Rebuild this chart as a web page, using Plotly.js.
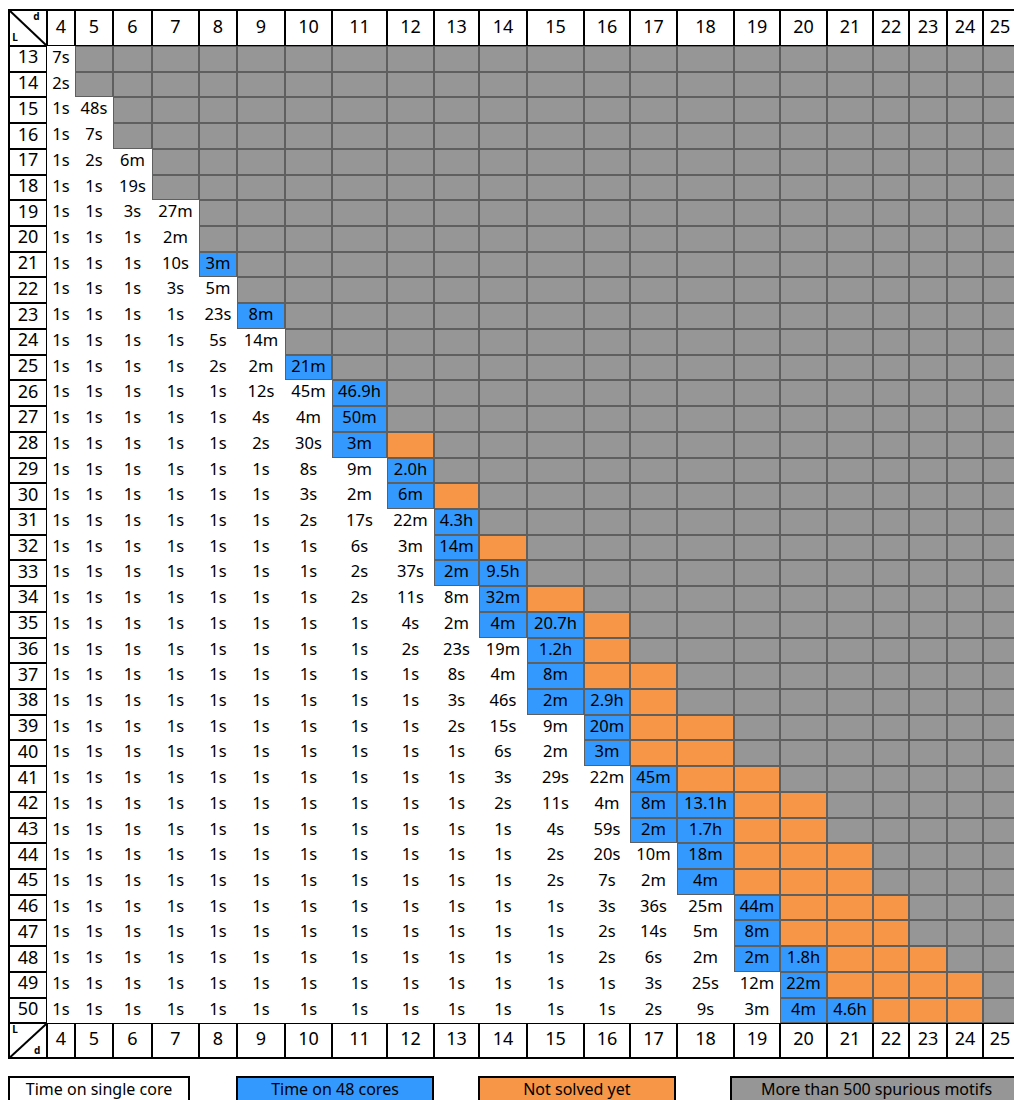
<!DOCTYPE html>
<html>
<head>
<meta charset="utf-8">
<script src="https://cdn.plot.ly/plotly-3.0.1.min.js"></script>
<style>html,body{margin:0;padding:0;background:#ffffff;}</style>
</head>
<body>
<div id="chart" style="width:1014px;height:1100px;"></div>
<script>
// ================= DATA =================
// motif width d (columns) and motif length L (rows)
const dValues = [4, 5, 6, 7, 8, 9, 10, 11, 12, 13, 14, 15, 16, 17, 18, 19, 20, 21, 22, 23, 24, 25];
const LValues = [13, 14, 15, 16, 17, 18, 19, 20, 21, 22, 23, 24, 25, 26, 27, 28, 29, 30, 31,
                 32, 33, 34, 35, 36, 37, 38, 39, 40, 41, 42, 43, 44, 45, 46, 47, 48, 49, 50];

// Time on a single core, per L row, starting at d = 4
const singleCore = [
  ["7s"],
  ["2s"],
  ["1s", "48s"],
  ["1s", "7s"],
  ["1s", "2s", "6m"],
  ["1s", "1s", "19s"],
  ["1s", "1s", "3s", "27m"],
  ["1s", "1s", "1s", "2m"],
  ["1s", "1s", "1s", "10s"],
  ["1s", "1s", "1s", "3s", "5m"],
  ["1s", "1s", "1s", "1s", "23s"],
  ["1s", "1s", "1s", "1s", "5s", "14m"],
  ["1s", "1s", "1s", "1s", "2s", "2m"],
  ["1s", "1s", "1s", "1s", "1s", "12s", "45m"],
  ["1s", "1s", "1s", "1s", "1s", "4s", "4m"],
  ["1s", "1s", "1s", "1s", "1s", "2s", "30s"],
  ["1s", "1s", "1s", "1s", "1s", "1s", "8s", "9m"],
  ["1s", "1s", "1s", "1s", "1s", "1s", "3s", "2m"],
  ["1s", "1s", "1s", "1s", "1s", "1s", "2s", "17s", "22m"],
  ["1s", "1s", "1s", "1s", "1s", "1s", "1s", "6s", "3m"],
  ["1s", "1s", "1s", "1s", "1s", "1s", "1s", "2s", "37s"],
  ["1s", "1s", "1s", "1s", "1s", "1s", "1s", "2s", "11s", "8m"],
  ["1s", "1s", "1s", "1s", "1s", "1s", "1s", "1s", "4s", "2m"],
  ["1s", "1s", "1s", "1s", "1s", "1s", "1s", "1s", "2s", "23s", "19m"],
  ["1s", "1s", "1s", "1s", "1s", "1s", "1s", "1s", "1s", "8s", "4m"],
  ["1s", "1s", "1s", "1s", "1s", "1s", "1s", "1s", "1s", "3s", "46s"],
  ["1s", "1s", "1s", "1s", "1s", "1s", "1s", "1s", "1s", "2s", "15s", "9m"],
  ["1s", "1s", "1s", "1s", "1s", "1s", "1s", "1s", "1s", "1s", "6s", "2m"],
  ["1s", "1s", "1s", "1s", "1s", "1s", "1s", "1s", "1s", "1s", "3s", "29s", "22m"],
  ["1s", "1s", "1s", "1s", "1s", "1s", "1s", "1s", "1s", "1s", "2s", "11s", "4m"],
  ["1s", "1s", "1s", "1s", "1s", "1s", "1s", "1s", "1s", "1s", "1s", "4s", "59s"],
  ["1s", "1s", "1s", "1s", "1s", "1s", "1s", "1s", "1s", "1s", "1s", "2s", "20s", "10m"],
  ["1s", "1s", "1s", "1s", "1s", "1s", "1s", "1s", "1s", "1s", "1s", "2s", "7s", "2m"],
  ["1s", "1s", "1s", "1s", "1s", "1s", "1s", "1s", "1s", "1s", "1s", "1s", "3s", "36s", "25m"],
  ["1s", "1s", "1s", "1s", "1s", "1s", "1s", "1s", "1s", "1s", "1s", "1s", "2s", "14s", "5m"],
  ["1s", "1s", "1s", "1s", "1s", "1s", "1s", "1s", "1s", "1s", "1s", "1s", "2s", "6s", "2m"],
  ["1s", "1s", "1s", "1s", "1s", "1s", "1s", "1s", "1s", "1s", "1s", "1s", "1s", "3s", "25s", "12m"],
  ["1s", "1s", "1s", "1s", "1s", "1s", "1s", "1s", "1s", "1s", "1s", "1s", "1s", "2s", "9s", "3m"]
];

// Time on 48 cores, per L row, in the cells right after the single-core cells
const multiCore = [
  [], [], [], [], [], [], [], [],
  ["3m"], [], ["8m"], [], ["21m"], ["46.9h"], ["50m"], ["3m"], ["2.0h"], ["6m"],
  ["4.3h"], ["14m"], ["2m", "9.5h"], ["32m"], ["4m", "20.7h"], ["1.2h"], ["8m"],
  ["2m", "2.9h"], ["20m"], ["3m"], ["45m"], ["8m", "13.1h"], ["2m", "1.7h"],
  ["18m"], ["4m"], ["44m"], ["8m"], ["2m", "1.8h"], ["22m"], ["4m", "4.6h"]
];

// Number of "not solved yet" cells after the 48-core cells (the rest: > 500 spurious motifs)
const unsolvedCount = [0, 0, 0, 0, 0, 0, 0, 0, 0, 0, 0, 0, 0, 0, 0, 1, 0, 1, 0,
                       1, 0, 1, 1, 1, 2, 1, 2, 2, 2, 2, 2, 3, 3, 3, 3, 3, 4, 3];

const legendLabels = ["Time on single core", "Time on 48 cores", "Not solved yet", "More than 500 spurious motifs"];
const cornerLabels = ["d", "L"];

// ================= LAYOUT CONSTANTS =================
const FONT = "'Noto Sans', 'Open Sans', sans-serif";
const colEdges = [9, 47, 75, 113, 152, 199, 237, 285, 332, 387, 434, 479, 527, 584, 630, 677,
                  734, 780, 827, 873, 909, 947, 983, 1017];
const headerTop = 10, headerBottom = 46, rowH = 25.72, footerH = 35;
const rowEdges = [headerTop, headerBottom];
for (let i = 1; i <= LValues.length; i++) rowEdges.push(headerBottom + i * rowH);
rowEdges.push(rowEdges[rowEdges.length - 1] + footerH);
const legendBoxes = [[9, 189], [237, 433], [479, 675], [731, 1022]];
const legendTop = 1076, legendH = 30;
const COLORS = {white: "#ffffff", blue: "#3399ff", orange: "#f79646", gray: "#969696",
                grid: "#5f5f5f", frame: "#000000"};

// ================= BUILD GRID =================
const nR = LValues.length + 2, nC = dValues.length + 1;
const zBase = [], zTop = [];
const cellText = {x: [], y: [], t: []};
const cx = c => (colEdges[c] + colEdges[c + 1]) / 2;
const cy = r => (rowEdges[r] + rowEdges[r + 1]) / 2;

for (let r = 0; r < nR; r++) {
  const baseRow = [], topRow = [];
  for (let c = 0; c < nC; c++) {
    const isFrame = (r === 0 || r === nR - 1 || c === 0);
    if (isFrame) { baseRow.push(2); topRow.push(0); continue; }
    const li = r - 1, di = c - 1;
    const nS = singleCore[li].length, nM = multiCore[li].length, nU = unsolvedCount[li];
    let status;
    if (di < nS) status = 0;
    else if (di < nS + nM) status = 1;
    else if (di < nS + nM + nU) status = 2;
    else status = 3;
    baseRow.push(status === 0 ? 0 : 1);
    topRow.push(status === 0 ? null : status);
  }
  zBase.push(baseRow); zTop.push(topRow);
}

// cell texts
LValues.forEach((L, li) => {
  const r = li + 1;
  singleCore[li].forEach((t, di) => { cellText.x.push(cx(di + 1)); cellText.y.push(cy(r)); cellText.t.push(t); });
  multiCore[li].forEach((t, k) => {
    const di = singleCore[li].length + k;
    cellText.x.push(cx(di + 1)); cellText.y.push(cy(r)); cellText.t.push(t);
  });
});

// header / footer / row labels
const hdr = {x: [], y: [], t: []};
dValues.forEach((d, i) => {
  hdr.x.push(cx(i + 1)); hdr.y.push(cy(0)); hdr.t.push(String(d));
  hdr.x.push(cx(i + 1)); hdr.y.push(cy(nR - 1)); hdr.t.push(String(d));
});
LValues.forEach((L, i) => { hdr.x.push(cx(0)); hdr.y.push(cy(i + 1)); hdr.t.push(String(L)); });

const baseX = colEdges.slice(); baseX[0] -= 1; baseX[baseX.length - 1] += 1;
const baseY = rowEdges.slice(); baseY[0] -= 1; baseY[baseY.length - 1] += 1;

const traces = [];
traces.push({
  type: "heatmap", x: baseX, y: baseY, z: zBase, zmin: -0.5, zmax: 2.5, showscale: false,
  hoverinfo: "skip",
  colorscale: [[0, COLORS.white], [1/3, COLORS.white], [1/3, COLORS.grid], [2/3, COLORS.grid],
               [2/3, COLORS.frame], [1, COLORS.frame]]
});
traces.push({
  type: "heatmap", x: colEdges, y: rowEdges, z: zTop, zmin: -0.5, zmax: 3.5, showscale: false,
  hoverinfo: "skip", xgap: 2, ygap: 2,
  colorscale: [[0, COLORS.white], [0.25, COLORS.white], [0.25, COLORS.blue], [0.5, COLORS.blue],
               [0.5, COLORS.orange], [0.75, COLORS.orange], [0.75, COLORS.gray], [1, COLORS.gray]]
});

// corner diagonals
const x0 = colEdges[0], x1 = colEdges[1];
const hT = rowEdges[0], hB = rowEdges[1];
const fT = rowEdges[nR - 1], fB = rowEdges[nR];
traces.push({type: "scatter", mode: "lines", x: [x0, x1], y: [hT, hB], line: {color: "#000", width: 2},
             hoverinfo: "skip", cliponaxis: false});
traces.push({type: "scatter", mode: "lines", x: [x0, x1], y: [fB, fT], line: {color: "#000", width: 2},
             hoverinfo: "skip", cliponaxis: false});
// corner labels
const cw = x1 - x0;
traces.push({
  type: "scatter", mode: "text", hoverinfo: "skip", cliponaxis: false,
  x: [x0 + cw * 0.72, x0 + cw * 0.16, x0 + cw * 0.16, x0 + cw * 0.74],
  y: [hT + 7, hB - 8, fT + 7, fB - 7],
  text: ["<b>" + cornerLabels[0] + "</b>", "<b>" + cornerLabels[1] + "</b>",
         "<b>" + cornerLabels[1] + "</b>", "<b>" + cornerLabels[0] + "</b>"],
  textfont: {family: FONT, size: 10, color: "#000"}
});

traces.push({
  type: "scatter", mode: "text", x: hdr.x, y: hdr.y, text: hdr.t, hoverinfo: "skip", cliponaxis: false,
  textfont: {family: FONT, size: 18, color: "#000"}
});
traces.push({
  type: "scatter", mode: "text", x: cellText.x, y: cellText.y, text: cellText.t, hoverinfo: "skip",
  cliponaxis: false, textfont: {family: FONT, size: 16.5, color: "#000"}
});

// legend boxes (drawn as annotations; text kept inside the visible area)
const legendFill = [COLORS.white, COLORS.blue, COLORS.orange, COLORS.gray];
const annotations = legendLabels.map((lab, i) => ({
  xref: "x", yref: "y", x: (legendBoxes[i][0] + legendBoxes[i][1]) / 2, y: legendTop,
  xanchor: "center", yanchor: "top", showarrow: false, text: lab,
  width: legendBoxes[i][1] - legendBoxes[i][0] - 2, height: legendH,
  bgcolor: legendFill[i], bordercolor: "#000", borderwidth: 2, borderpad: 0,
  font: {family: FONT, size: 16, color: "#000"}, align: "center", valign: "top"
}));

const layout = {
  width: 1014, height: 1100, margin: {l: 0, r: 0, t: 0, b: 0, pad: 0},
  paper_bgcolor: "#ffffff", plot_bgcolor: "#ffffff", showlegend: false,
  font: {family: FONT},
  xaxis: {range: [0, 1014], visible: false, fixedrange: true},
  yaxis: {range: [1100, 0], visible: false, fixedrange: true},
  annotations: annotations
};

Plotly.newPlot("chart", traces, layout, {staticPlot: true, displayModeBar: false});
</script>
</body>
</html>
